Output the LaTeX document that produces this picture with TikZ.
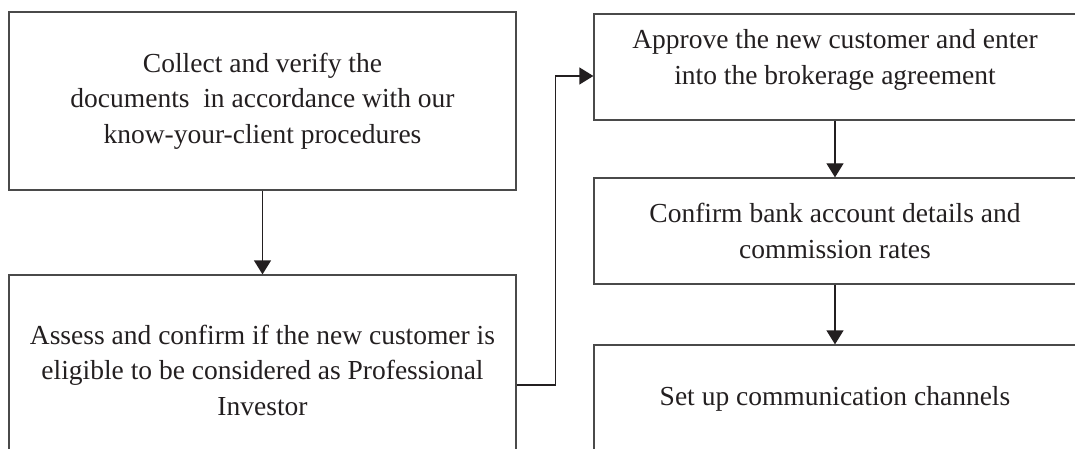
\documentclass[tikz,border=0pt]{standalone}
\usepackage{fontspec}
\setmainfont{Liberation Serif}
\usetikzlibrary{arrows.meta}
\definecolor{ink}{HTML}{231F20}
\definecolor{edge}{HTML}{4A4A4A}
\begin{document}
\begin{tikzpicture}[x=1pt,y=-1pt,
  box/.style={draw=edge, line width=1.3pt, rectangle, inner sep=0pt, align=center,
              text=ink, font=\fontsize{27.5}{35.5}\selectfont},
  txt/.style={inner sep=0pt, align=center, text=ink, font=\fontsize{27.5}{35.5}\selectfont},
  arr/.style={draw=ink, line width=1.3pt, -{Triangle[length=14pt,width=17pt]}}]
\useasboundingbox (0,0) rectangle (1075,449);
\clip (0,0) rectangle (1075,449);
% left column
\node[box, minimum width=507pt, minimum height=178pt] (l1) at (262.5,101)
  {Collect and verify the\\documents\ \ in accordance with our\\know-your-client procedures};
\node[box, minimum width=507pt, minimum height=190pt] (l2) at (262.5,370)
  {Assess and confirm if the new customer is\\eligible to be considered as Professional\\Investor};
% right column
\node[box, minimum width=482pt, minimum height=106pt] (r1) at (835,67) {};
\node[txt] (r1t) at (835,60) {Approve the new customer and enter\\into the brokerage agreement};
\node[box, minimum width=482pt, minimum height=106pt] (r2) at (835,231)
  {Confirm bank account details and\\commission rates};
\node[box, minimum width=482pt, minimum height=108pt] (r3) at (835,399)
  {Set up communication channels};
% connectors
\draw[arr] (l1.south) -- (l2.north);
\draw[arr] ([yshift=-15pt]l2.east) -- ++(39,0) |- ([yshift=-9pt]r1.west);
\draw[arr] (r1.south) -- (r2.north);
\draw[arr] (r2.south) -- (r3.north);
\end{tikzpicture}
\end{document}
